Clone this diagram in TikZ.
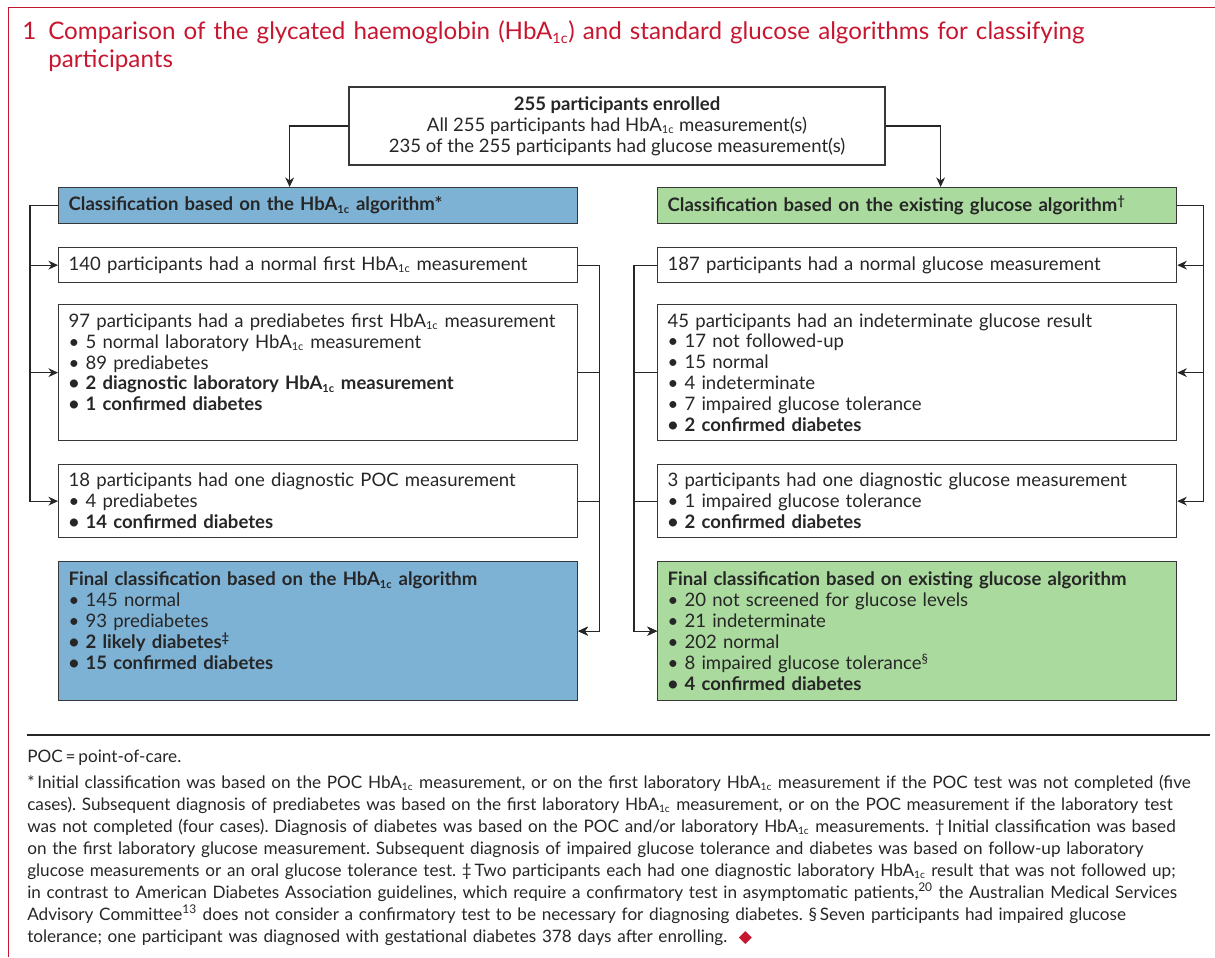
\documentclass[tikz,border=0pt]{standalone}
\usepackage{fontspec}
\usepackage{graphicx}
\setmainfont{Lato}
\newfontfamily\symfont{DejaVu Sans}
\usetikzlibrary{positioning,arrows.meta,calc}
\definecolor{titlered}{RGB}{200,22,48}
\definecolor{hbablue}{RGB}{126,178,213}
\definecolor{glugreen}{RGB}{170,218,158}
\definecolor{edge}{RGB}{55,55,55}
\newcommand{\hba}{HbA\textsubscript{\scalebox{0.85}{1c}}}
\newcommand{\boxfont}{\fontsize{13.2}{14.9}\selectfont}
\newcommand{\titlefont}{\fontsize{17.2}{19.9}\selectfont}
\newcommand{\notefont}{\fontsize{12.2}{15.65}\selectfont}
\frenchspacing

\begin{document}
\begin{tikzpicture}[
  box/.style={draw=edge, line width=0.9pt, anchor=north west, text width=12.475cm, inner xsep=0.25cm, inner ysep=0pt, align=left, font=\boxfont, text=black!85},
  hdr/.style={box, minimum height=0.9cm},
  arr/.style={-{Stealth[length=2.4mm, width=2.2mm]}, line width=0.8pt, black!85}
]
\useasboundingbox (0,0) rectangle (30.375,-23.925);
% frame and title
\draw[titlered, line width=0.6pt] (0.2,-23.925) -- (0.2,-0.175) -- (30.375,-0.175);
\node[anchor=base west, font=\titlefont, text=titlered, inner sep=0pt] (num) at (0.55,-0.99) {1};
\node[anchor=base west, font=\titlefont, text=titlered, inner sep=0pt, text width=28.5cm, align=left] (title) at (1.2,-0.99)
 {Comparison of the glycated haemoglobin (\hba) and standard glucose algorithms for classifying\\participants};
% enrolment
\node[draw=edge, line width=0.9pt, align=center, minimum width=13.4cm, minimum height=1.95cm, font=\boxfont, text=black!85] (top) at (15.425,-3.15)
 {\textbf{255 participants enrolled}\\All 255 participants had \hba{} measurement(s)\\235 of the 255 participants had glucose measurement(s)};
% HbA1c column
\node[hdr, fill=hbablue] (hl) at (1.45,-4.675) {\textbf{Classification based on the \hba{} algorithm*}};
\node[box, minimum height=0.875cm] (l1) at (1.45,-6.175) {140 participants had a normal first \hba{} measurement};
\node[box, minimum height=3.4cm] (l2) at (1.45,-7.6) {97 participants had a prediabetes first \hba{} measurement\\• 5 normal laboratory \hba{} measurement\\• 89 prediabetes\\\textbf{• 2 diagnostic laboratory \hba{} measurement}\\\textbf{• 1 confirmed diabetes}\\\mbox{}};
\node[box, minimum height=1.825cm] (l3) at (1.45,-11.6) {18 participants had one diagnostic POC measurement\\• 4 prediabetes\\\textbf{• 14 confirmed diabetes}};
\node[box, minimum height=3.475cm, fill=hbablue] (lf) at (1.45,-14.025) {\textbf{Final classification based on the \hba{} algorithm}\\• 145 normal\\• 93 prediabetes\\\textbf{• 2 likely diabetes\textsuperscript{‡}}\\\textbf{• 15 confirmed diabetes}\\\mbox{}};
% glucose column
\node[hdr, fill=glugreen] (hr) at (16.425,-4.675) {\textbf{Classification based on the existing glucose algorithm\textsuperscript{†}}};
\node[box, minimum height=0.875cm] (r1) at (16.425,-6.175) {187 participants had a normal glucose measurement};
\node[box, minimum height=3.4cm] (r2) at (16.425,-7.6) {45 participants had an indeterminate glucose result\\• 17 not followed-up\\• 15 normal\\• 4 indeterminate\\• 7 impaired glucose tolerance\\\textbf{• 2 confirmed diabetes}};
\node[box, minimum height=1.825cm] (r3) at (16.425,-11.6) {3 participants had one diagnostic glucose measurement\\• 1 impaired glucose tolerance\\\textbf{• 2 confirmed diabetes}};
\node[box, minimum height=3.475cm, fill=glugreen] (rf) at (16.425,-14.025) {\textbf{Final classification based on existing glucose algorithm}\\• 20 not screened for glucose levels\\• 21 indeterminate\\• 202 normal\\• 8 impaired glucose tolerance\textsuperscript{§}\\\textbf{• 4 confirmed diabetes}};
% arrows
\draw[arr] (top.west) -| ([xshift=-0.7125cm]hl.north);
\draw[arr] (top.east) -| ([xshift=0.5875cm]hr.north);
\foreach \n in {l1,l2,l3} \draw[arr] (hl.west) -- ++(-0.7,0) |- (\n.west);
\foreach \n in {l1,l2,l3} \draw[arr] (\n.east) -- ++(0.525,0) |- (lf.east);
\foreach \n in {r1,r2,r3} \draw[arr] (hr.east) -- ++(0.65,0) |- (\n.east);
\foreach \n in {r1,r2,r3} \draw[arr] (\n.west) -- ++(-0.575,0) |- (rf.west);
% footnotes
\draw[line width=0.9pt, black!85] (0.675,-18.375) -- (30.25,-18.375);
\node[anchor=base west, font=\notefont, text=black!85, inner sep=0pt] (poc) at (0.675,-19.05) {POC\,=\,point-of-care.};
\node[anchor=base west, font=\notefont, text=black!85, inner sep=0pt, text width=29.6cm, align=left] (notes) at (0.675,-19.7)
 {*\,Initial classification was based on the POC \hba{} measurement, or on the first laboratory \hba{} measurement if the POC test was not completed (five\\
 cases). Subsequent diagnosis of prediabetes was based on the first laboratory \hba{} measurement, or on the POC measurement if the laboratory test\\
 was not completed (four cases). Diagnosis of diabetes was based on the POC and/or laboratory \hba{} measurements. †\,Initial classification was based\\
 on the first laboratory glucose measurement. Subsequent diagnosis of impaired glucose tolerance and diabetes was based on follow-up laboratory\\
 glucose measurements or an oral glucose tolerance test. ‡\,Two participants each had one diagnostic laboratory \hba{} result that was not followed up;\\
 in contrast to American Diabetes Association guidelines, which require a confirmatory test in asymptomatic patients,\textsuperscript{20} the Australian Medical Services\\
 Advisory Committee\textsuperscript{13} does not consider a confirmatory test to be necessary for diagnosing diabetes. §\,Seven participants had impaired glucose\\
 tolerance; one participant was diagnosed with gestational diabetes 378 days after enrolling. \ {\symfont\color{titlered}◆}};
\end{tikzpicture}
\end{document}
